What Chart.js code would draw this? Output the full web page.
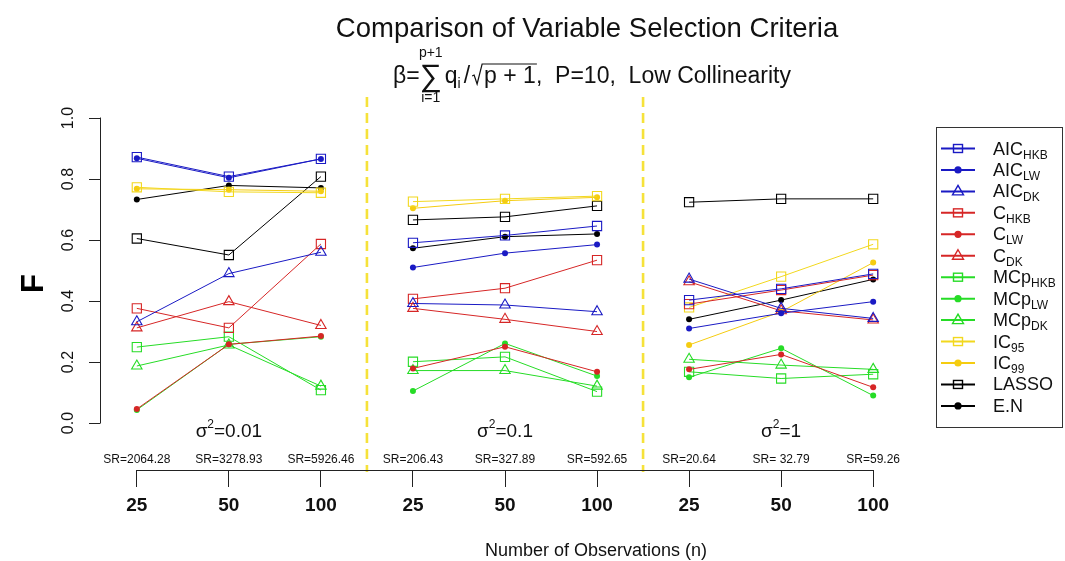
<!DOCTYPE html>
<html>
<head>
<meta charset="utf-8">
<script src="https://cdn.jsdelivr.net/npm/chart.js@4.4.1/dist/chart.umd.min.js"></script>
<style>
html,body{margin:0;padding:0;background:#fff;}
#wrap{width:1065px;height:561px;position:relative;}
</style>
</head>
<body>
<div id="wrap"><canvas id="c" width="1065" height="561"></canvas></div>
<script>
// ---------- data ----------
const nLabels = ['25','50','100','25','50','100','25','50','100'];
const srLabels = ['SR=2064.28','SR=3278.93','SR=5926.46','SR=206.43','SR=327.89','SR=592.65','SR=20.64','SR= 32.79','SR=59.26'];
const sigmaLabels = ['0.01','0.1','1'];
const yTicks = [0.0,0.2,0.4,0.6,0.8,1.0];

const AIC_HKB = [0.872,0.808,0.866, 0.591,0.615,0.646, 0.403,0.440,0.489];
const AIC_LW  = [0.868,0.804,0.866, 0.510,0.557,0.585, 0.310,0.360,0.398];
const AIC_DK  = [0.332,0.490,0.560, 0.392,0.387,0.365, 0.472,0.376,0.343];
const C_HKB   = [0.376,0.312,0.587, 0.407,0.442,0.534, 0.390,0.436,0.485];
const C_LW    = [0.046,0.258,0.285, 0.179,0.250,0.168, 0.176,0.225,0.117];
const C_DK    = [0.312,0.398,0.320, 0.376,0.340,0.300, 0.463,0.368,0.338];
const MCp_HKB = [0.249,0.283,0.108, 0.201,0.217,0.103, 0.168,0.146,0.160];
const MCp_LW  = [0.043,0.258,0.283, 0.105,0.261,0.154, 0.150,0.245,0.090];
const MCp_DK  = [0.187,0.256,0.121, 0.172,0.172,0.121, 0.209,0.190,0.176];
const IC95    = [0.773,0.758,0.755, 0.726,0.735,0.744, 0.379,0.480,0.586];
const IC99    = [0.768,0.765,0.760, 0.704,0.729,0.740, 0.256,0.365,0.526];
const LASSO   = [0.605,0.551,0.808, 0.666,0.676,0.712, 0.724,0.735,0.735];
const EN      = [0.733,0.779,0.771, 0.573,0.611,0.620, 0.340,0.403,0.471];

const legendBase = ['AIC','AIC','AIC','C','C','C','MCp','MCp','MCp','IC','IC','LASSO','E.N'];
const legendSub  = ['HKB','LW','DK','HKB','LW','DK','HKB','LW','DK','95','99','',''];
const seriesValues = [AIC_HKB,AIC_LW,AIC_DK,C_HKB,C_LW,C_DK,MCp_HKB,MCp_LW,MCp_DK,IC95,IC99,LASSO,EN];

// ---------- styles ----------
const BLUE='#1a1ac4', RED='#d62626', GREEN='#26dc26', YEL='#f2d81e', YEL2='#f5cc10', BLK='#000000';
const seriesColors = [BLUE,BLUE,BLUE,RED,RED,RED,GREEN,GREEN,GREEN,YEL,YEL2,BLK,BLK];
const seriesMarks  = ['rect','circle','triangle','rect','circle','triangle','rect','circle','triangle','rect','circle','rect','circle'];
const FONT = '"Liberation Sans", Arial, Helvetica, sans-serif';

function toPoints(arr){
  const pts=[];
  arr.forEach((v,i)=>{
    pts.push({x:i,y:v});
    if(i===2||i===5) pts.push({x:i+0.5,y:null});
  });
  return pts;
}

const datasets = seriesValues.map((vals,k)=>{
  const m = seriesMarks[k], col = seriesColors[k];
  return {
    label: legendBase[k]+legendSub[k],
    data: toPoints(vals),
    borderColor: col,
    borderWidth: 1,
    backgroundColor: col,
    pointStyle: m,
    pointRadius: m==='rect'?6.5:(m==='circle'?3:6),
    pointBorderColor: col,
    pointBackgroundColor: m==='circle'?col:'rgba(0,0,0,0)',
    pointBorderWidth: m==='circle'?0:1.1,
    spanGaps:false,
    tension:0,
    fill:false
  };
});

function drawMarker(ctx, style, x, y, color){
  ctx.save();
  ctx.strokeStyle=color; ctx.fillStyle=color; ctx.lineWidth=1.4;
  if(style==='rect'){ ctx.strokeRect(x-4.5,y-4,9,8); }
  else if(style==='circle'){ ctx.beginPath(); ctx.arc(x,y,3.6,0,2*Math.PI); ctx.fill(); }
  else { ctx.beginPath(); ctx.moveTo(x,y-6); ctx.lineTo(x+5.5,y+3.5); ctx.lineTo(x-5.5,y+3.5); ctx.closePath(); ctx.stroke(); }
  ctx.restore();
}

const deco = {
  id:'deco',
  beforeDatasetsDraw(chart){
    const ctx=chart.ctx, xs=chart.scales.x, ca=chart.chartArea;
    ctx.save();
    ctx.strokeStyle='#f6e23a'; ctx.lineWidth=2.6; ctx.setLineDash([10,6]);
    [2.5,5.5].forEach(v=>{
      const px=xs.getPixelForValue(v);
      ctx.beginPath(); ctx.moveTo(px,ca.top); ctx.lineTo(px,ca.bottom+2); ctx.stroke();
    });
    ctx.restore();
  },
  afterDraw(chart){
    const ctx=chart.ctx, xs=chart.scales.x, ys=chart.scales.y, ca=chart.chartArea;
    ctx.save();
    // axis lines (R style: only span ticks)
    ctx.strokeStyle='#222'; ctx.lineWidth=1;
    ctx.beginPath();
    ctx.moveTo(Math.round(ca.left)+0.5, ys.getPixelForValue(0)+0.5);
    ctx.lineTo(Math.round(ca.left)+0.5, ys.getPixelForValue(1)-0.5);
    ctx.stroke();
    ctx.beginPath();
    ctx.moveTo(xs.getPixelForValue(0)-0.5, Math.round(ca.bottom)+0.5);
    ctx.lineTo(xs.getPixelForValue(8)+0.5, Math.round(ca.bottom)+0.5);
    ctx.stroke();

    ctx.fillStyle='#111';
    ctx.textBaseline='alphabetic';
    // title
    ctx.font='27.5px '+FONT; ctx.textAlign='center';
    ctx.fillText('Comparison of Variable Selection Criteria',587,37);

    // subtitle
    ctx.textAlign='left';
    const base=83, mainF='23px '+FONT, smallF='14px '+FONT, sigF='31px '+FONT;
    ctx.font=mainF; const wBeta=ctx.measureText('β=').width;
    ctx.font=sigF; const wSig=ctx.measureText('∑').width;
    ctx.font=mainF; const wq=ctx.measureText('q').width;
    ctx.font='14px '+FONT; const wi=ctx.measureText('i').width;
    ctx.font=mainF; const wSl=ctx.measureText('/').width;
    const wP=ctx.measureText('p + 1').width;
    const wRest=ctx.measureText(',  P=10,  Low Collinearity').width;
    const total=wBeta+wSig+3+wq+wi+3+wSl+2+12+wP+wRest;
    let x=592-total/2;
    ctx.font=mainF; ctx.fillText('β=',x,base); x+=wBeta;
    ctx.font=sigF; ctx.fillText('∑',x,base+3);
    const sc=x+wSig/2;
    ctx.font=smallF; ctx.textAlign='center';
    ctx.fillText('p+1',sc,base-26); ctx.fillText('i=1',sc,base+19);
    ctx.textAlign='left'; x+=wSig+3;
    ctx.font=mainF; ctx.fillText('q',x,base); x+=wq;
    ctx.font='14px '+FONT; ctx.fillText('i',x,base+5); x+=wi+3;
    ctx.font=mainF; ctx.fillText('/',x,base); x+=wSl+2;
    ctx.strokeStyle='#111'; ctx.lineWidth=1.2;
    ctx.beginPath();
    ctx.moveTo(x,base-7); ctx.lineTo(x+2,base-8); ctx.lineTo(x+5,base+1);
    ctx.lineTo(x+10,base-19); ctx.lineTo(x+12+wP+1,base-19); ctx.stroke();
    x+=12;
    ctx.fillText('p + 1',x,base); x+=wP;
    ctx.fillText(',  P=10,  Low Collinearity',x,base);

    // sigma labels
    sigmaLabels.forEach((s,k)=>{
      const cx=xs.getPixelForValue(1+3*k);
      ctx.font='19px '+FONT;
      const w1=ctx.measureText('σ').width, w3=ctx.measureText('='+s).width;
      ctx.font='12px '+FONT; const w2=ctx.measureText('2').width;
      let sx=cx-(w1+w2+w3)/2;
      ctx.font='19px '+FONT; ctx.fillText('σ',sx,437); sx+=w1;
      ctx.font='12px '+FONT; ctx.fillText('2',sx,428); sx+=w2;
      ctx.font='19px '+FONT; ctx.fillText('='+s,sx,437);
    });

    // SR labels
    ctx.font='12px '+FONT; ctx.textAlign='center';
    srLabels.forEach((s,i)=>{ ctx.fillText(s,xs.getPixelForValue(i),463); });

    // x title
    ctx.font='18px '+FONT;
    ctx.fillText('Number of Observations (n)',596,556);

    // legend
    ctx.strokeStyle='#333'; ctx.lineWidth=1;
    ctx.strokeRect(936.5,127.5,126,300);
    chart.data.datasets.forEach((ds,k)=>{
      const y=148.5+k*21.45;
      ctx.strokeStyle=seriesColors[k]; ctx.lineWidth=2;
      ctx.beginPath(); ctx.moveTo(941,y); ctx.lineTo(975,y); ctx.stroke();
      drawMarker(ctx,seriesMarks[k],958,y,seriesColors[k]);
      ctx.fillStyle='#111'; ctx.textAlign='left';
      ctx.font='18px '+FONT;
      ctx.fillText(legendBase[k],993,y+6);
      const wb=ctx.measureText(legendBase[k]).width;
      if(legendSub[k]){ ctx.font='12px '+FONT; ctx.fillText(legendSub[k],993+wb,y+10); }
    });
    ctx.restore();
  }
};

new Chart(document.getElementById('c'),{
  type:'line',
  data:{datasets},
  options:{
    responsive:false,
    animation:false,
    events:[],
    layout:{padding:{left:0,right:155,top:97,bottom:0}},
    plugins:{legend:{display:false},tooltip:{enabled:false},title:{display:false}},
    scales:{
      x:{
        type:'linear', min:-0.4, max:8.4,
        afterBuildTicks:s=>{ s.ticks=nLabels.map((_,i)=>({value:i})); },
        afterFit:s=>{ s.height=91; },
        border:{display:false},
        grid:{drawOnChartArea:false,drawTicks:true,tickLength:17,color:'#222',lineWidth:1},
        ticks:{autoSkip:false,maxRotation:0,padding:7,color:'#111',
          font:{family:FONT,size:19,weight:'bold'},
          callback:(v)=>nLabels[v]}
      },
      y:{
        type:'linear', min:-0.154, max:1.069,
        afterBuildTicks:s=>{ s.ticks=yTicks.map(v=>({value:v})); },
        afterFit:s=>{ s.width=100; },
        border:{display:false},
        grid:{drawOnChartArea:false,drawTicks:true,tickLength:11,color:'#222',lineWidth:1},
        ticks:{autoSkip:false,minRotation:90,maxRotation:90,crossAlign:'center',padding:9,color:'#111',
          font:{family:FONT,size:16},
          callback:(v)=>v.toFixed(1)},
        title:{display:true,text:'F',color:'#000',font:{family:FONT,size:31,weight:'bold'},padding:{top:16,bottom:0}}
      }
    }
  },
  plugins:[deco]
});
</script>
</body>
</html>
